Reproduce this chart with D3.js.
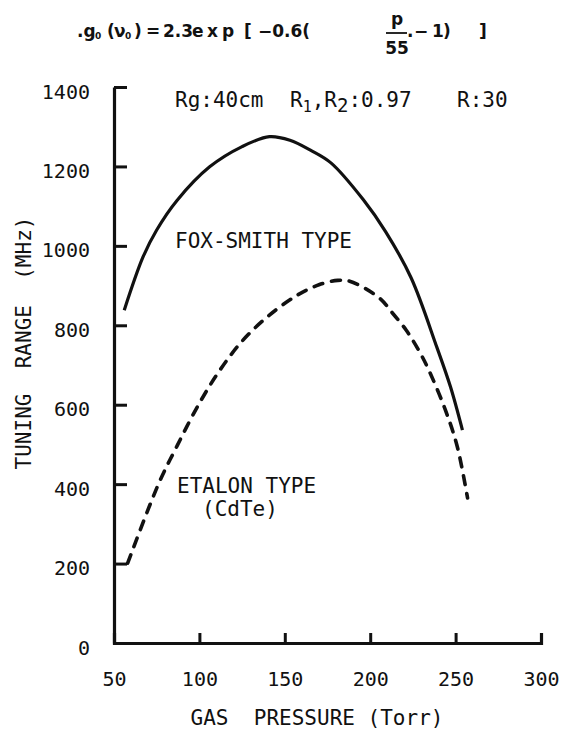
<!DOCTYPE html>
<html>
<head>
<meta charset="utf-8">
<script src="https://cdn.jsdelivr.net/npm/d3@7"></script>
<style>
  html, body { margin: 0; padding: 0; background: #fff; }
  svg { display: block; }
  text { fill: #111; }
</style>
</head>
<body>
<script>
// ---- data ----
const xTicks = [50, 100, 150, 200, 250, 300];
const yTicks = [0, 200, 400, 600, 800, 1000, 1200, 1400];

const foxPressure = [56, 67, 75, 87, 106, 125, 141, 153, 165, 177, 196, 209, 224, 239, 247, 254];
const foxRange    = [838, 972, 1040, 1115, 1199, 1250, 1275, 1266, 1241, 1209, 1116, 1036, 919, 745, 645, 536];

const etalonPressure = [58, 76, 87, 100, 112, 125, 140, 157, 170, 181, 188, 205, 213, 221, 228, 234, 244, 251, 257];
const etalonRange    = [201, 400, 497, 604, 687, 760, 822, 875, 902, 913, 911, 870, 831, 788, 740, 690, 587, 494, 365];

const xTitle = "GAS  PRESSURE (Torr)";
const yTitle = "TUNING  RANGE  (MHz)";

// ---- layout ----
const W = 568, H = 729;
const margin = { left: 114, right: 27, top: 87, bottom: 86 };
const mono = "'DejaVu Sans Mono', 'Liberation Mono', monospace";

const svg = d3.select("body").append("svg").attr("width", W).attr("height", H);

const x = d3.scaleLinear().domain([50, 300]).range([margin.left, W - margin.right]);
const y = d3.scaleLinear().domain([0, 1400]).range([H - margin.bottom, margin.top]);

// axes
const xAxis = d3.axisBottom(x).tickValues(xTicks).tickFormat(d3.format("d"))
  .tickSizeInner(-10).tickSizeOuter(-10).tickPadding(29);
const yAxis = d3.axisLeft(y).tickValues(yTicks).tickFormat(d3.format("d"))
  .tickSizeInner(-13).tickSizeOuter(0).tickPadding(24);

const gx = svg.append("g").attr("transform", `translate(0,${y(0)})`).call(xAxis);
const gy = svg.append("g").attr("transform", `translate(${x(50)},0)`).call(yAxis);

[gx, gy].forEach(g => {
  g.selectAll("path.domain").attr("stroke", "#111").attr("stroke-width", 3.2);
  g.selectAll(".tick line").attr("stroke", "#111").attr("stroke-width", 3);
  g.selectAll(".tick text").attr("font-family", mono).attr("font-size", 20).attr("fill", "#111");
});
gy.selectAll(".tick text").attr("dy", "0.55em");

// curves
const line = d3.line().x(d => x(d[0])).y(d => y(d[1])).curve(d3.curveCatmullRom.alpha(0.5));

svg.append("path")
  .datum(d3.zip(foxPressure, foxRange))
  .attr("d", line)
  .attr("fill", "none").attr("stroke", "#111").attr("stroke-width", 3.2);

svg.append("path")
  .datum(d3.zip(etalonPressure, etalonRange))
  .attr("d", line)
  .attr("fill", "none").attr("stroke", "#111").attr("stroke-width", 3.6)
  .attr("stroke-dasharray", "9,9").attr("stroke-linecap", "round");

// annotations
function txt(s, tx, ty, size, opts = {}) {
  return svg.append("text").attr("x", tx).attr("y", ty)
    .attr("font-family", opts.family || mono).attr("font-size", size)
    .attr("font-weight", opts.weight || "normal")
    .attr("text-anchor", opts.anchor || "start")
    .style("white-space", "pre").text(s);
}

txt("Rg:40cm", 175, 107, 21);
const r = svg.append("text").attr("x", 290).attr("y", 107)
  .attr("font-family", mono).attr("font-size", 21).style("white-space", "pre");
r.append("tspan").text("R");
r.append("tspan").attr("dy", 5).attr("font-size", 15).text("1");
r.append("tspan").attr("dy", -5).text(",R");
r.append("tspan").attr("dy", 5).attr("font-size", 19).text("2");
r.append("tspan").attr("dy", -5).text(":0.97");
txt("R:30", 457, 107, 21);

txt("FOX-SMITH TYPE", 175, 248, 21);
txt("ETALON TYPE", 177, 493, 21);
txt("(CdTe)", 202, 516, 21);

// axis titles
txt(xTitle, 317, 725, 21, { anchor: "middle" });
svg.append("text")
  .attr("transform", `translate(31,343) rotate(-90)`)
  .attr("text-anchor", "middle")
  .attr("font-family", mono).attr("font-size", 21)
  .style("white-space", "pre").text(yTitle);

// formula at top
const fF = "'DejaVu Sans', sans-serif";
const fy = 37;
const fs = 17;
const pieces = [
  [".g", 77], ["(", 107], ["ν", 114], [")", 134], ["=", 146], ["2.3", 163],
  ["e", 192], ["x", 207], ["p", 222], ["[", 244], ["−0.6(", 258],
  [".", 407], ["−", 414], ["1", 432], [")", 443], ["]", 479]
];
pieces.forEach(([s, px]) => txt(s, px, fy, fs, { family: fF, weight: "bold" }));
txt("0", 95, fy + 2, 9, { family: fF, weight: "bold" });
txt("0", 125, fy + 2, 9, { family: fF, weight: "bold" });
txt("p", 397, 25, fs, { family: fF, weight: "bold", anchor: "middle" });
txt("55", 397, 54, fs, { family: fF, weight: "bold", anchor: "middle" });
svg.append("line").attr("x1", 386).attr("x2", 407).attr("y1", 33).attr("y2", 33)
  .attr("stroke", "#111").attr("stroke-width", 1.8);
</script>
</body>
</html>
